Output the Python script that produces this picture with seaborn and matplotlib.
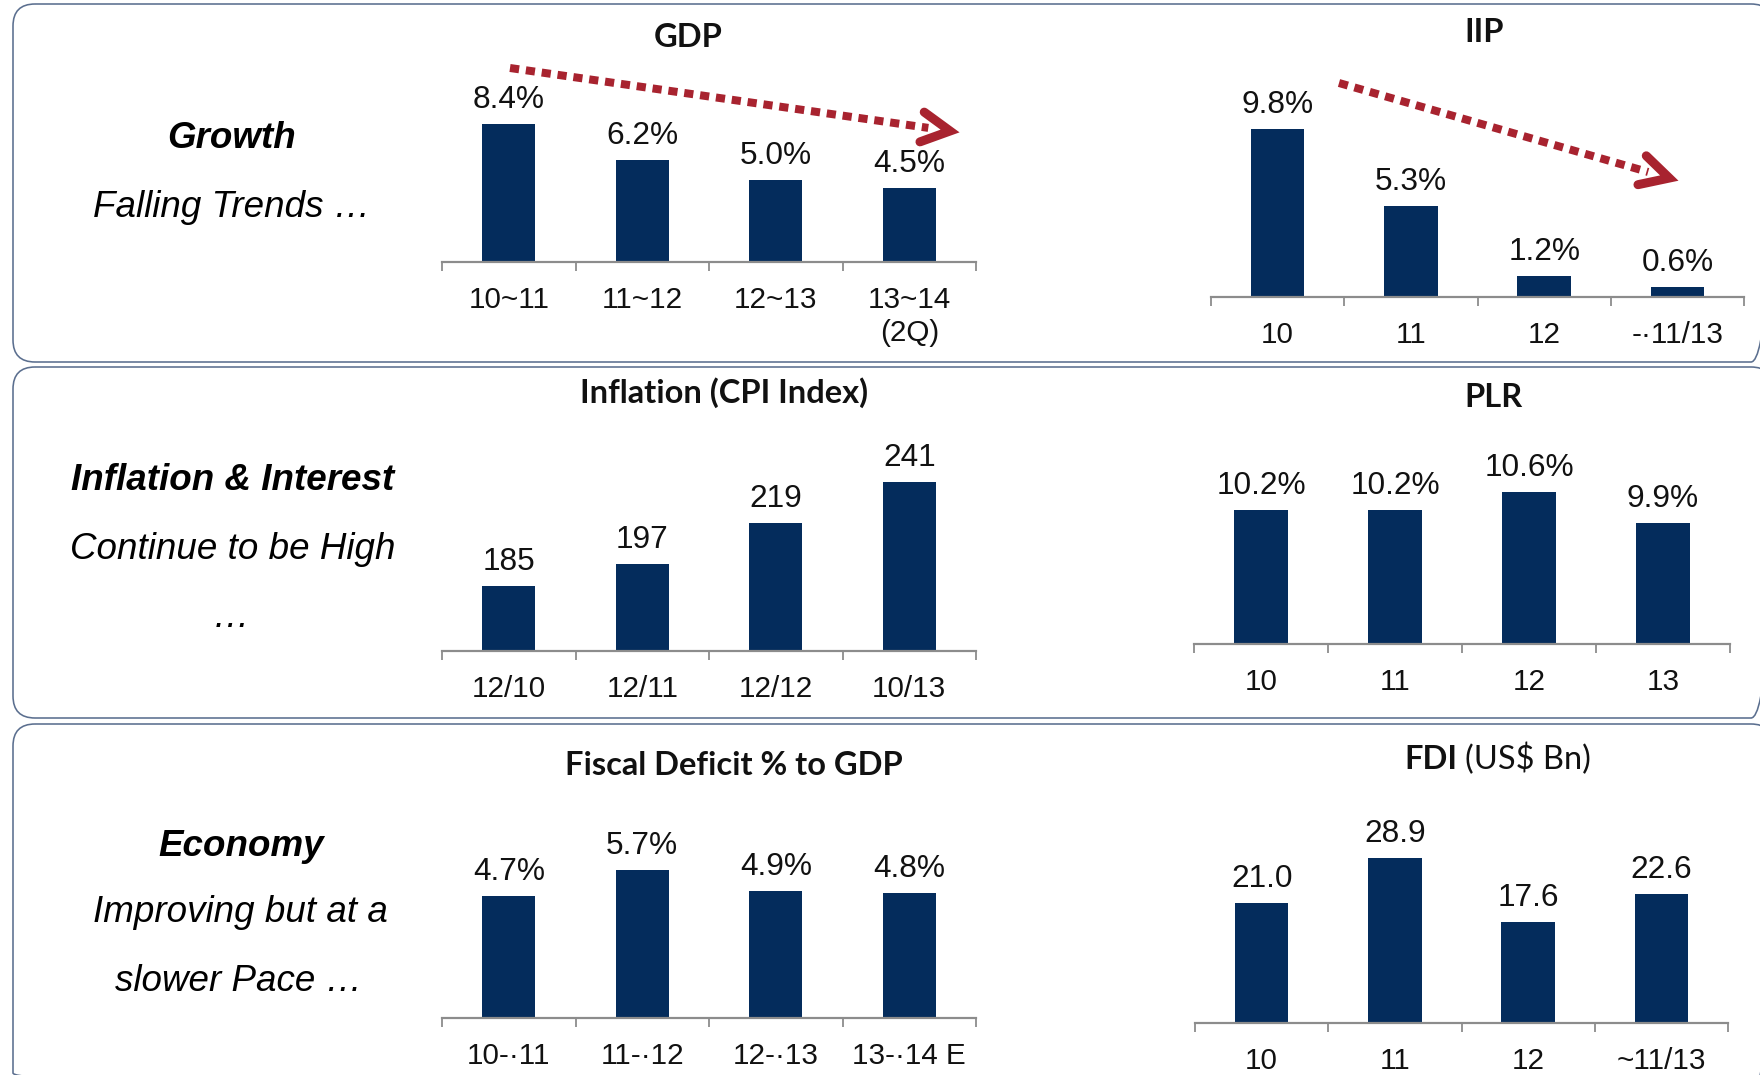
import numpy as np
import pandas as pd
import matplotlib
matplotlib.use("Agg")
import matplotlib.pyplot as plt
from matplotlib.patches import FancyBboxPatch
from matplotlib.lines import Line2D
from matplotlib.transforms import Affine2D
import seaborn as sns

# ---- data -------------------------------------------------------------
gdp_cats = ["10~11", "11~12", "12~13", "13~14\n(2Q)"]
gdp_vals = [8.4, 6.2, 5.0, 4.5]

iip_cats = ["10", "11", "12", "-·11/13"]
iip_vals = [9.8, 5.3, 1.2, 0.6]

cpi_cats = ["12/10", "12/11", "12/12", "10/13"]
cpi_vals = [185, 197, 219, 241]

plr_cats = ["10", "11", "12", "13"]
plr_vals = [10.2, 10.2, 10.6, 9.9]

fd_cats = ["10-·11", "11-·12", "12-·13", "13-·14 E"]
fd_vals = [4.7, 5.7, 4.9, 4.8]

fdi_cats = ["10", "11", "12", "~11/13"]
fdi_vals = [21.0, 28.9, 17.6, 22.6]

# ---- style ------------------------------------------------------------
W, H, DPI = 1760, 1075, 100
NAVY = "#042C5C"
RED = "#A8232F"
AXIS_GREY = "#8C8C8C"
FRAME = "#5B6F8F"
PT = 72.0 / DPI  # points per pixel

sns.set_style("white")
plt.rcParams["font.family"] = ["Liberation Sans", "DejaVu Sans"]

fig = plt.figure(figsize=(W / DPI, H / DPI), dpi=DPI)
fig.patch.set_facecolor("white")

# pixel coordinates measured from the top-left corner of the figure
PX = Affine2D().scale(1.0 / W, -1.0 / H).translate(0, 1) + fig.transFigure


def panel(x0, y0, x1, y1):
    box = FancyBboxPatch((x0, y0), x1 - x0, y1 - y0,
                         boxstyle="round,pad=0,rounding_size=22",
                         transform=PX, facecolor="none", edgecolor=FRAME,
                         linewidth=1.6 * PT)
    fig.add_artist(box)


panel(13, 4, 1773, 362)
panel(13, 367, 1773, 718)
panel(13, 724, 1773, 1095)


def bar_chart(left, right, base, cats, vals, ymin, scale, fmt):
    height_px = 230
    ax = fig.add_axes([left / W, 1 - base / H, (right - left) / W, height_px / H])
    df = pd.DataFrame({"cat": cats, "val": vals})
    sns.barplot(data=df, x="cat", y="val", ax=ax, color=NAVY, saturation=1,
                width=0.4, linewidth=0, errorbar=None)
    ax.set_xlim(-0.5, 3.5)
    ax.set_ylim(ymin, ymin + height_px / scale)
    ax.set_xlabel("")
    ax.set_ylabel("")
    ax.set_yticks([])
    ax.patch.set_alpha(0)
    for s in ("top", "left", "right"):
        ax.spines[s].set_visible(False)
    ax.spines["bottom"].set_color(AXIS_GREY)
    ax.spines["bottom"].set_linewidth(2.2 * PT)
    ax.set_xticks(range(len(cats)))
    ax.set_xticklabels(cats, fontsize=21.3, color="#111111", linespacing=1.2)
    ax.tick_params(axis="x", which="major", length=0, pad=17.5)
    ax.set_xticks(np.arange(-0.5, len(cats), 1.0), minor=True)
    ax.tick_params(axis="x", which="minor", bottom=True, length=8.5 * PT,
                   width=1.8 * PT, color=AXIS_GREY, direction="out")
    ax.bar_label(ax.containers[0], labels=[fmt.format(v) for v in vals],
                 padding=6.5, fontsize=22.8, color="#111111")
    return ax


bar_chart(442, 976, 262, gdp_cats, gdp_vals, 0, 16.43, "{:.1f}%")
bar_chart(1211, 1744, 297, iip_cats, iip_vals, 0, 17.14, "{:.1f}%")
bar_chart(442, 976, 651, cpi_cats, cpi_vals, 150, 1.857, "{:.0f}")
bar_chart(1194, 1730, 644, plr_cats, plr_vals, 7.2, 44.7, "{:.1f}%")
bar_chart(442, 976, 1018, fd_cats, fd_vals, 0, 26.0, "{:.1f}%")
bar_chart(1195, 1728, 1023, fdi_cats, fdi_vals, 0, 5.72, "{:.1f}")

# ---- chart titles -----------------------------------------------------
TITLE_FONT = ["Lato", "DejaVu Sans"]


def title(x, y, s, ha="center", weight="bold"):
    fig.text(x / W, 1 - y / H, s, ha=ha, va="baseline", fontsize=23.5,
             fontweight=weight, family=TITLE_FONT, color="#111111")


title(688, 47, "GDP")
title(1484, 42, "IIP")
title(724, 403, "Inflation (CPI Index)")
title(1493, 407, "PLR")
title(734, 775, "Fiscal Deficit % to GDP")
title(1457, 769, "FDI", ha="right")
title(1465, 769, "(US$ Bn)", ha="left", weight="normal")

# ---- row captions -----------------------------------------------------


def caption(x, y, s, bold=False):
    fig.text(x / W, 1 - y / H, s, ha="center", va="baseline", fontsize=26.5,
             fontstyle="italic", fontweight="bold" if bold else "normal",
             color="#000000")


caption(232, 148, "Growth", bold=True)
caption(232, 217, "Falling Trends …")
caption(233, 490, "Inflation & Interest", bold=True)
caption(233, 559, "Continue to be High")
caption(231, 627, "…")
caption(241, 856, "Economy", bold=True)
caption(240, 922, "Improving but at a")
caption(239, 991, "slower Pace …")

# ---- trend arrows -----------------------------------------------------


def trend_arrow(start, tip):
    sx, sy = start
    tx, ty = tip
    d = np.array([tx - sx, ty - sy], dtype=float)
    u = d / np.hypot(*d)
    ctip = np.array([tx, ty]) - 7 * u
    shaft_end = ctip - 22 * u
    shaft = Line2D([sx, shaft_end[0]], [sy, shaft_end[1]], transform=PX,
                   color=RED, linewidth=8 * PT, linestyle=(0, (1.15, 0.85)),
                   dash_capstyle="butt")
    fig.add_artist(shaft)
    back = -u
    arms = []
    for ang in (np.deg2rad(28), np.deg2rad(-28)):
        c, s = np.cos(ang), np.sin(ang)
        r = np.array([back[0] * c - back[1] * s, back[0] * s + back[1] * c])
        arms.append(ctip + 32 * r)
    head = Line2D([arms[0][0], ctip[0], arms[1][0]],
                  [arms[0][1], ctip[1], arms[1][1]], transform=PX,
                  color=RED, linewidth=9 * PT, solid_capstyle="round",
                  solid_joinstyle="miter")
    fig.add_artist(head)


trend_arrow((510, 68), (957, 132))
trend_arrow((1339, 83), (1676, 180))

fig.savefig("out.png", dpi=DPI, facecolor="white")
